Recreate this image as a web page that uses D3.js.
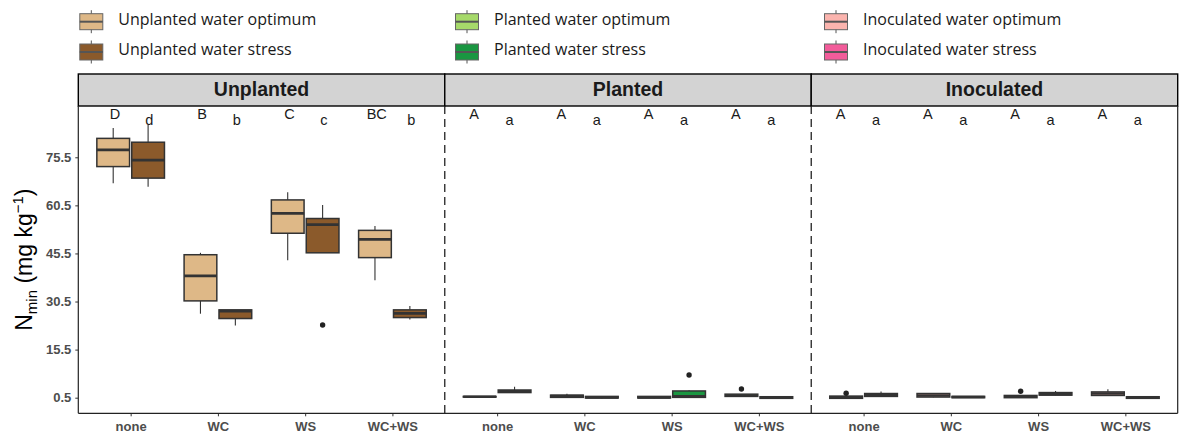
<!DOCTYPE html>
<html>
<head>
<meta charset="utf-8">
<script src="https://cdn.jsdelivr.net/npm/d3@7"></script>
<style>
  body { margin: 0; background: #fff; }
  svg { display: block; }
</style>
</head>
<body>
<svg id="chart" width="1179" height="438"></svg>
<script>
// ---- data ----
const categories = ["none", "WC", "WS", "WC+WS"];
const panels = ["Unplanted", "Planted", "Inoculated"];
const yTicks = [0.5, 15.5, 30.5, 45.5, 60.5, 75.5];

// box summaries per category: [lower whisker, Q1, median, Q3, upper whisker]
const unplantedOptimum = [[67.4, 72.6, 77.8, 81.4, 84.6], [26.7, 30.7, 38.5, 45.1, 45.7], [43.4, 51.8, 58.0, 62.2, 64.6], [37.1, 44.2, 49.9, 52.7, 54.1]];
const unplantedStress  = [[66.3, 69.0, 74.6, 80.2, 85.6], [23.0, 25.2, 27.5, 27.9, 27.9], [45.7, 45.7, 54.5, 56.4, 60.6], [24.9, 25.5, 26.8, 27.9, 29.1]];
const plantedOptimum   = [[0.7, 0.7, 0.8, 0.9, 0.9], [0.5, 0.6, 1.0, 1.3, 1.75], [0.3, 0.4, 0.6, 0.9, 0.9], [0.9, 0.9, 1.2, 1.6, 1.6]];
const plantedStress    = [[2.1, 2.1, 2.5, 2.9, 3.9], [0.3, 0.4, 0.6, 0.9, 0.9], [0.6, 0.6, 0.9, 2.6, 2.8], [0.2, 0.3, 0.5, 0.8, 0.8]];
const inoculatedOptimum = [[0.3, 0.3, 0.6, 1.0, 1.0], [0.6, 0.7, 1.2, 1.8, 1.8], [0.4, 0.5, 0.8, 1.2, 1.2], [1.0, 1.2, 1.8, 2.3, 3.1]];
const inoculatedStress  = [[0.9, 0.9, 1.3, 1.8, 2.4], [0.4, 0.5, 0.7, 0.9, 0.9], [1.2, 1.3, 1.6, 2.1, 2.6], [0.2, 0.3, 0.5, 0.8, 0.8]];

// outlying observations per category
const unplantedOptimumOut  = [[], [], [], []];
const unplantedStressOut   = [[], [], [23.2], []];
const plantedOptimumOut    = [[], [], [], [3.2]];
const plantedStressOut     = [[], [], [7.6], []];
const inoculatedOptimumOut = [[1.9], [], [2.5], []];
const inoculatedStressOut  = [[], [], [], []];

// significance letters (upper case: water optimum, lower case: water stress)
const unplantedUpper  = ["D", "B", "C", "BC"];
const unplantedLower  = ["d", "b", "c", "b"];
const plantedUpper    = ["A", "A", "A", "A"];
const plantedLower    = ["a", "a", "a", "a"];
const inoculatedUpper = ["A", "A", "A", "A"];
const inoculatedLower = ["a", "a", "a", "a"];

const seriesNames = [
  "Unplanted water optimum", "Unplanted water stress",
  "Planted water optimum", "Planted water stress",
  "Inoculated water optimum", "Inoculated water stress"
];
const seriesColors = ["#deb887", "#8b5a2b", "#a6d96a", "#1a9641", "#fbb4ae", "#f25c9a"];

// ---- assembled structures ----
const series = [
  { panel: "Unplanted",  side: 0, stats: unplantedOptimum,  out: unplantedOptimumOut },
  { panel: "Unplanted",  side: 1, stats: unplantedStress,   out: unplantedStressOut },
  { panel: "Planted",    side: 0, stats: plantedOptimum,    out: plantedOptimumOut },
  { panel: "Planted",    side: 1, stats: plantedStress,     out: plantedStressOut },
  { panel: "Inoculated", side: 0, stats: inoculatedOptimum, out: inoculatedOptimumOut },
  { panel: "Inoculated", side: 1, stats: inoculatedStress,  out: inoculatedStressOut }
].map((s, i) => ({ ...s, name: seriesNames[i], color: seriesColors[i] }));

const letters = {
  Unplanted:  [unplantedUpper, unplantedLower],
  Planted:    [plantedUpper, plantedLower],
  Inoculated: [inoculatedUpper, inoculatedLower]
};

// ---- layout ----
const svg = d3.select("#chart");
const plotLeft = 78.3, plotRight = 1177.7;
const stripTop = 74, panelTop = 106, panelBottom = 413.3;
const panelW = (plotRight - plotLeft) / panels.length;
const boxOffset = 0.2, boxWidth = 0.375; // in category steps
const letterNudge = { Unplanted: [-0.18, 0.215], Planted: [-0.265, 0.142], Inoculated: [-0.265, 0.142] };
const inkDark = "#1a1a1a", axisGrey = "#4d4d4d", boxLine = "#333333";

const y = d3.scaleLinear().domain([-4.37, 91.5]).range([panelBottom, panelTop]);

// ---- legend ----
const legendCols = [79.3, 455, 824];
const legendRows = [21.7, 52];
const legend = svg.append("g").attr("class", "legend");
series.forEach((s, i) => {
  const col = Math.floor(i / 2), row = i % 2;
  const g = legend.append("g").attr("transform", `translate(${legendCols[col]},${legendRows[row]})`);
  g.append("line").attr("x1", 12).attr("x2", 12).attr("y1", -11.5).attr("y2", 11.5)
    .attr("stroke", "#555").attr("stroke-width", 1);
  g.append("rect").attr("x", 0.5).attr("y", -8).attr("width", 23).attr("height", 16)
    .attr("fill", s.color).attr("stroke", "#666").attr("stroke-width", 1);
  g.append("line").attr("x1", 0.5).attr("x2", 23.5).attr("y1", 0).attr("y2", 0)
    .attr("stroke", "#555").attr("stroke-width", 2);
  g.append("text").attr("x", 39).attr("y", -1).attr("dominant-baseline", "middle")
    .attr("font-family", "'Open Sans', sans-serif").attr("font-size", 16)
    .attr("fill", inkDark).text(s.name);
});

// ---- panels ----
panels.forEach((p, pi) => {
  const x0 = plotLeft + pi * panelW, x1 = x0 + panelW;
  const x = d3.scalePoint().domain(categories).range([x0, x1]).padding(0.6);
  const step = x.step();
  const g = svg.append("g").attr("class", "panel");

  // strip
  g.append("rect").attr("x", x0).attr("y", stripTop).attr("width", panelW).attr("height", panelTop - stripTop)
    .attr("fill", "#d3d3d3").attr("stroke", "#000").attr("stroke-width", 1.4);
  g.append("text").attr("x", (x0 + x1) / 2).attr("y", (stripTop + panelTop) / 2 + 1)
    .attr("text-anchor", "middle").attr("dominant-baseline", "middle")
    .attr("font-family", "'Liberation Sans', Arial, sans-serif").attr("font-weight", "bold")
    .attr("font-size", 19.5).attr("fill", inkDark).text(p);

  // x axis
  const xa = g.append("g").attr("transform", `translate(0,${panelBottom})`)
    .call(d3.axisBottom(x).tickSize(3).tickPadding(5).tickSizeOuter(0));
  xa.select(".domain").remove();
  xa.selectAll(".tick line").attr("stroke", "#333");
  xa.selectAll(".tick text").attr("font-family", "'Liberation Sans', Arial, sans-serif")
    .attr("font-weight", "bold").attr("font-size", 13).attr("fill", axisGrey);

  // boxes
  series.filter(s => s.panel === p).forEach(s => {
    const shift = (s.side === 0 ? -boxOffset : boxOffset) * step;
    const bw = boxWidth * step;
    s.stats.forEach((st, ci) => {
      const cx = x(categories[ci]) + shift;
      const [lo, q1, med, q3, hi] = st;
      g.append("line").attr("x1", cx).attr("x2", cx).attr("y1", y(hi)).attr("y2", y(q3))
        .attr("stroke", boxLine).attr("stroke-width", 1.1);
      g.append("line").attr("x1", cx).attr("x2", cx).attr("y1", y(q1)).attr("y2", y(lo))
        .attr("stroke", boxLine).attr("stroke-width", 1.1);
      g.append("rect").attr("x", cx - bw / 2).attr("y", y(q3)).attr("width", bw)
        .attr("height", Math.max(0, y(q1) - y(q3)))
        .attr("fill", s.color).attr("stroke", boxLine).attr("stroke-width", 1.5);
      g.append("line").attr("x1", cx - bw / 2).attr("x2", cx + bw / 2).attr("y1", y(med)).attr("y2", y(med))
        .attr("stroke", boxLine).attr("stroke-width", 2.6);
      s.out[ci].forEach(v => {
        g.append("circle").attr("cx", cx).attr("cy", y(v)).attr("r", 2.7).attr("fill", "#222");
      });
    });
  });

  // significance letters
  const [up, low] = letters[p];
  categories.forEach((c, ci) => {
    g.append("text").attr("x", x(c) + letterNudge[p][0] * step).attr("y", 118.5)
      .attr("text-anchor", "middle").attr("font-family", "'Liberation Sans', Arial, sans-serif")
      .attr("font-size", 14.5).attr("fill", inkDark).text(up[ci]);
    g.append("text").attr("x", x(c) + letterNudge[p][1] * step).attr("y", 125)
      .attr("text-anchor", "middle").attr("font-family", "'Liberation Sans', Arial, sans-serif")
      .attr("font-size", 14.5).attr("fill", inkDark).text(low[ci]);
  });

  // panel separators
  if (pi > 0) {
    g.append("line").attr("x1", x0).attr("x2", x0).attr("y1", panelTop).attr("y2", panelBottom)
      .attr("stroke", "#222").attr("stroke-width", 1.3).attr("stroke-dasharray", "8,5");
  }
});

// ---- outer axis lines ----
svg.append("line").attr("x1", plotLeft).attr("x2", plotRight).attr("y1", panelBottom).attr("y2", panelBottom)
  .attr("stroke", "#222").attr("stroke-width", 1.2);
svg.append("line").attr("x1", plotRight).attr("x2", plotRight).attr("y1", panelTop).attr("y2", panelBottom)
  .attr("stroke", "#222").attr("stroke-width", 1.2);

const ya = svg.append("g").attr("transform", `translate(${plotLeft},0)`)
  .call(d3.axisLeft(y).tickValues(yTicks).tickFormat(d3.format(".1f")).tickSize(3).tickPadding(4).tickSizeOuter(0));
ya.select(".domain").attr("d", `M0,${panelTop}V${panelBottom}`).attr("stroke", "#222").attr("stroke-width", 1.2);
ya.selectAll(".tick line").attr("stroke", "#333");
ya.selectAll(".tick text").attr("font-family", "'Liberation Sans', Arial, sans-serif")
  .attr("font-weight", "bold").attr("font-size", 13).attr("fill", axisGrey);

// ---- y title ----
const yt = svg.append("text")
  .attr("transform", `translate(32,${(panelTop + panelBottom) / 2}) rotate(-90)`)
  .attr("text-anchor", "middle")
  .attr("font-family", "'Liberation Sans', Arial, sans-serif").attr("font-size", 23).attr("fill", "#000");
yt.append("tspan").text("N");
yt.append("tspan").attr("font-size", 15).attr("dy", 5).text("min");
yt.append("tspan").attr("dy", -5).text(" (mg kg");
yt.append("tspan").attr("font-size", 15).attr("dy", -9).text("\u22121");
yt.append("tspan").attr("dy", 9).text(")");
</script>
</body>
</html>
